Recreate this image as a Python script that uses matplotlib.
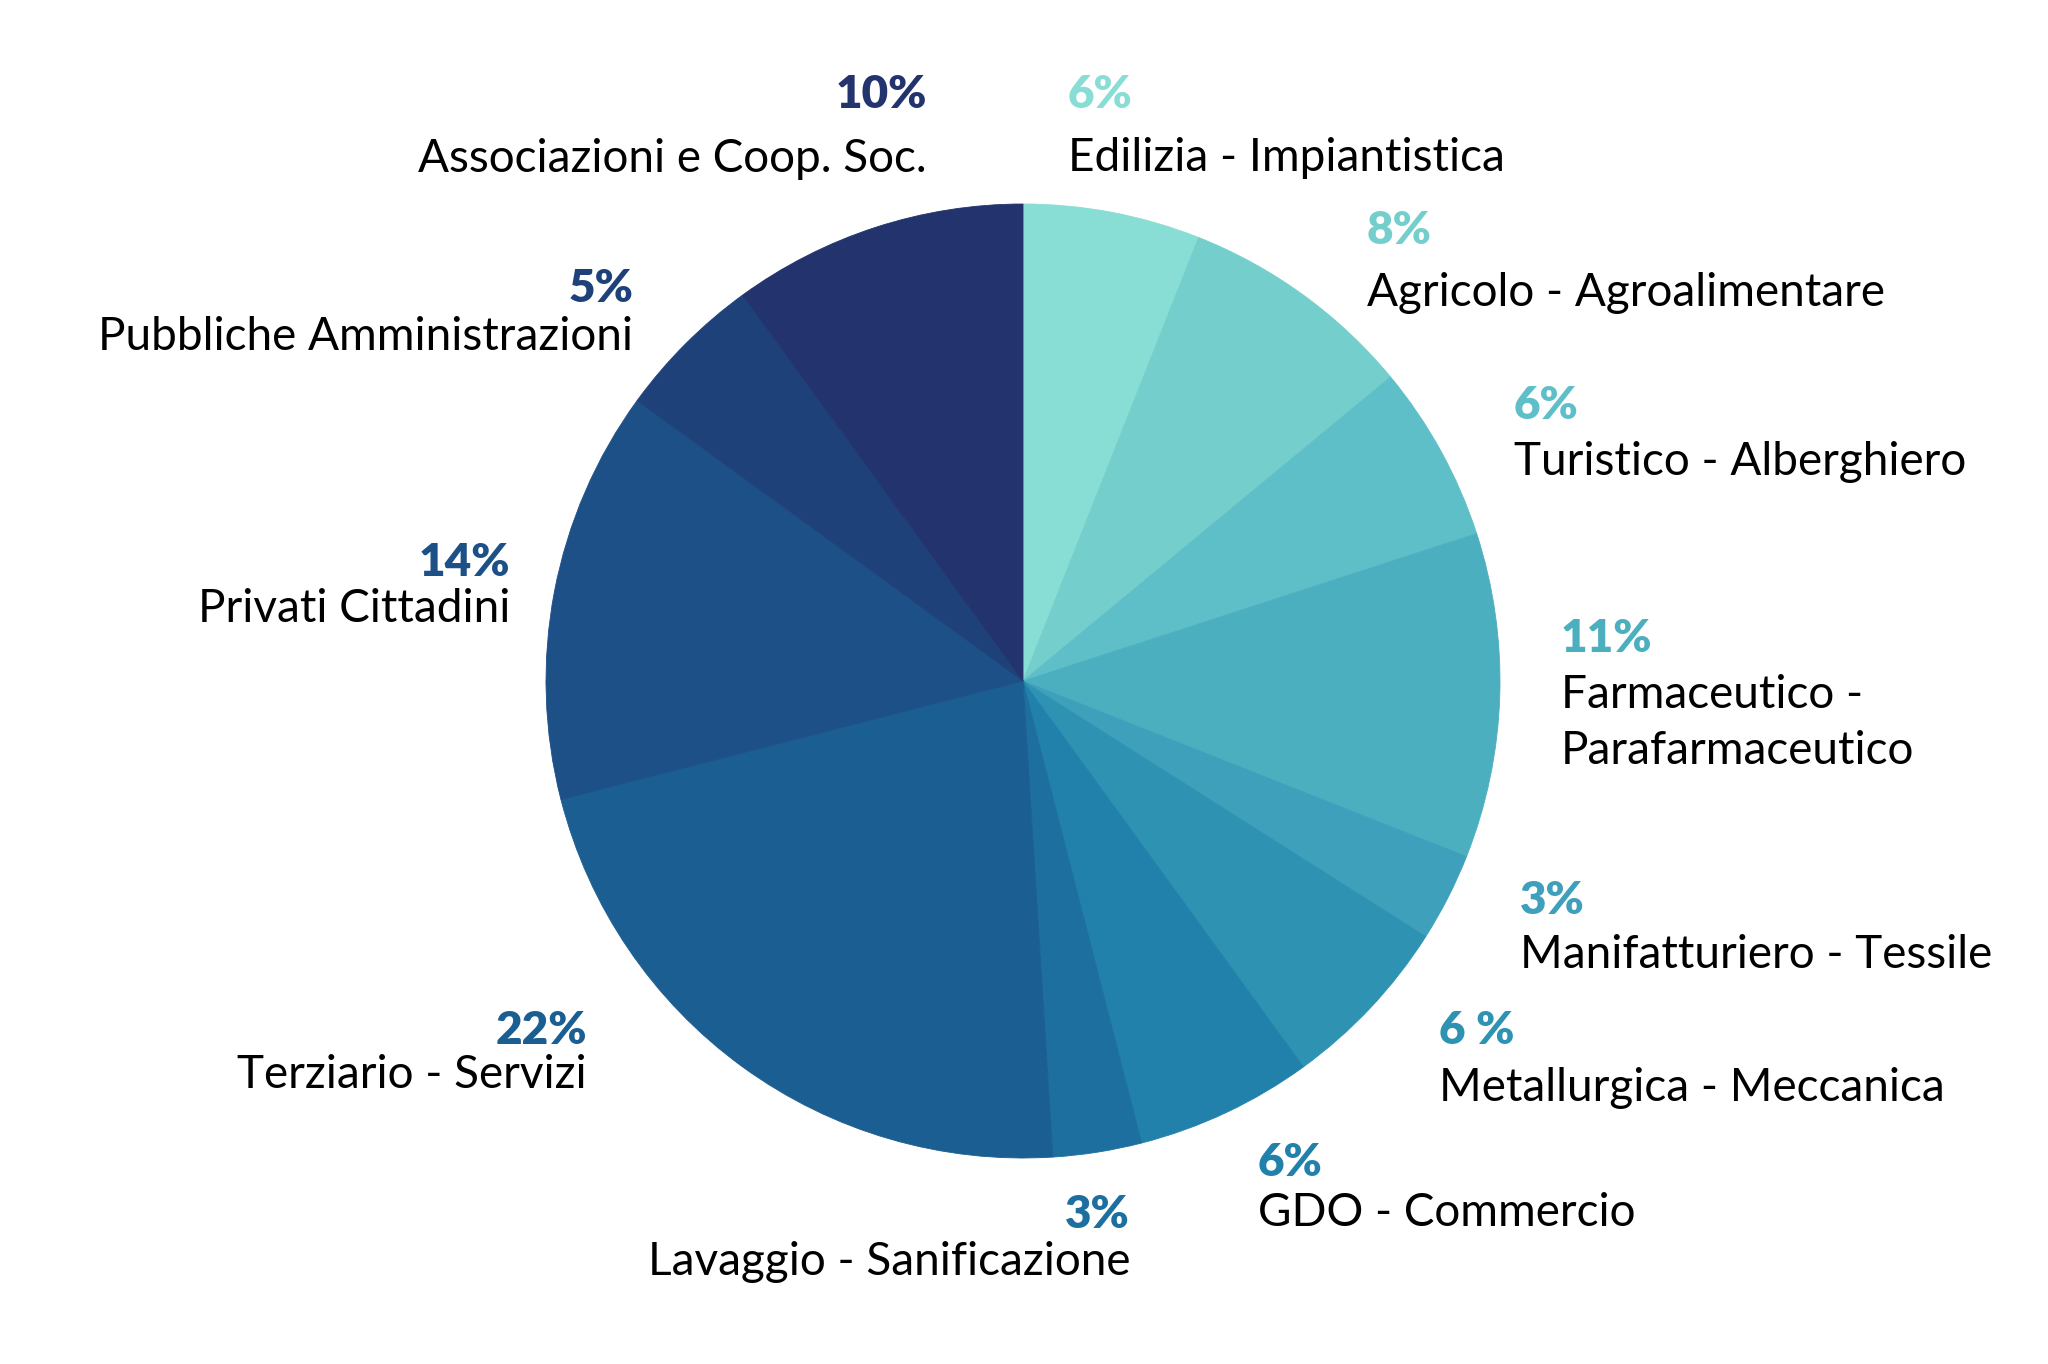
import numpy as np
import matplotlib.pyplot as plt

# Settori (in senso orario partendo dall'alto)
settori = ['Edilizia - Impiantistica', 'Agricolo - Agroalimentare', 'Turistico - Alberghiero',
           'Farmaceutico -\nParafarmaceutico', 'Manifatturiero - Tessile', 'Metallurgica - Meccanica',
           'GDO - Commercio', 'Lavaggio - Sanificazione', 'Terziario - Servizi',
           'Privati Cittadini', 'Pubbliche Amministrazioni', 'Associazioni e Coop. Soc.']
valori = [6, 8, 6, 11, 3, 6, 6, 3, 22, 14, 5, 10]
etichette_pct = ['6%', '8%', '6%', '11%', '3%', '6 %', '6%', '3%', '22%', '14%', '5%', '10%']

colori = ['#88ddd4', '#74cfcc', '#5fbfc8', '#4cafc0', '#3fa0bc', '#2e93b3',
          '#2181ab', '#1c6f9e', '#1b5f92', '#1c5087', '#1f417a', '#22336d']

# posizioni delle etichette in pixel (x, y percentuale, y nome, allineamento)
pos = [(1068, 95, 158, 'left'), (1367, 230, 293, 'left'), (1514, 406, 462, 'left'),
       (1561, 639, 723, 'left'), (1520, 900, 955, 'left'), (1439, 1031, 1088, 'left'),
       (1258, 1162, 1213, 'left'), (1130, 1215, 1262, 'right'), (587, 1031, 1075, 'right'),
       (510, 562, 609, 'right'), (633, 289, 337, 'right'), (927, 95, 159, 'right')]

W, H = 2048, 1364
cx, cy, r = 1023, 681, 477

plt.rcParams['font.family'] = ['Lato', 'DejaVu Sans']
fig = plt.figure(figsize=(W / 100, H / 100), dpi=100)
ax = fig.add_axes([(cx - r) / W, 1 - (cy + r) / H, 2 * r / W, 2 * r / H])
wedges, _ = ax.pie(valori, colors=colori, startangle=90, counterclock=False, radius=1)
for w in wedges:
    w.set_edgecolor(w.get_facecolor())
    w.set_linewidth(0.6)
ax.set_xlim(-1, 1)
ax.set_ylim(-1, 1)
ax.axis('off')

for nome, pct, col, (x, yp, yn, ha) in zip(settori, etichette_pct, colori, pos):
    fig.text(x / W, 1 - yp / H, pct, ha=ha, va='center', fontsize=33,
             fontweight='heavy', color=col)
    fig.text(x / W, 1 - yn / H, nome, ha=ha, va='center', fontsize=33,
             color='black', linespacing=1.42)

fig.savefig('out.png', dpi=100, facecolor='white')
